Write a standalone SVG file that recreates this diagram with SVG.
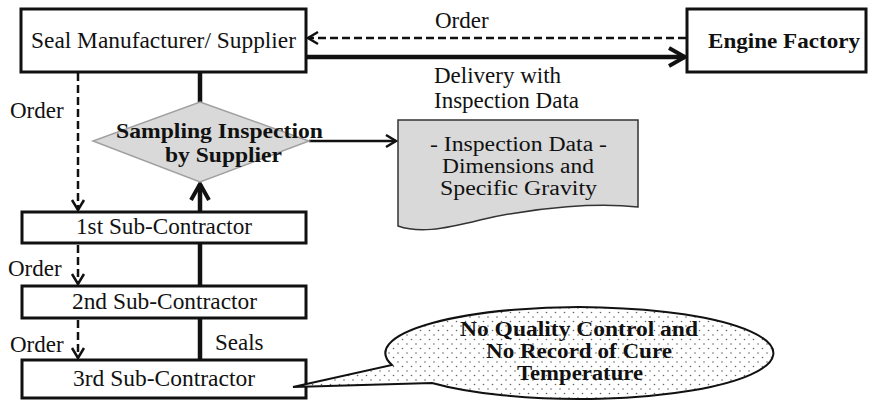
<svg xmlns="http://www.w3.org/2000/svg" width="872" height="401" viewBox="0 0 872 401">
<style>
  text { font-family: "Liberation Serif", "Times New Roman", serif; fill: #111; }
  .lbl { font-size: 23px; }
  .bold { font-weight: bold; font-size: 22px; }
  .tight { font-size: 20px; }
  .tightb { font-size: 20px; font-weight: bold; }
  .box { fill: #fff; stroke: #111; stroke-width: 3; }
  .solid { fill: none; stroke: #111; stroke-width: 4.5; }
  .thin { fill: none; stroke: #111; stroke-width: 2.5; }
  .dash { fill: none; stroke: #111; stroke-width: 2.5; stroke-dasharray: 8 4; }
</style>
<defs>
  <marker id="bigHead" markerUnits="userSpaceOnUse" viewBox="0 0 24 24" refX="21" refY="12" markerWidth="24" markerHeight="24" orient="auto">
    <path d="M5,3 L21,12 L5,21" fill="none" stroke="#111" stroke-width="4" stroke-linejoin="miter"/>
  </marker>
  <marker id="smallHead" markerUnits="userSpaceOnUse" viewBox="0 0 16 16" refX="14" refY="8" markerWidth="16" markerHeight="16" orient="auto">
    <path d="M4,2 L14,8 L4,14" fill="none" stroke="#111" stroke-width="2.5" stroke-dasharray="none"/>
  </marker>
  <pattern id="dots" patternUnits="userSpaceOnUse" width="9" height="9">
    <rect width="9" height="9" fill="#fff"/>
    <circle cx="2" cy="2" r="0.8" fill="#666"/>
    <circle cx="6.5" cy="6.5" r="0.8" fill="#666"/>
  </pattern>
</defs>

<g id="connectors">
  <line class="dash" x1="686" y1="38" x2="308" y2="38" marker-end="url(#smallHead)"/>
  <line class="solid" x1="306" y1="57" x2="685" y2="57" marker-end="url(#bigHead)"/>
  <line class="solid" x1="200" y1="72" x2="200" y2="103"/>
  <line class="thin" x1="309" y1="141" x2="396" y2="141" marker-end="url(#smallHead)"/>
  <line class="dash" x1="78" y1="73" x2="78" y2="210" marker-end="url(#smallHead)"/>
  <line class="dash" x1="78" y1="245" x2="78" y2="284" marker-end="url(#smallHead)"/>
  <line class="dash" x1="78" y1="320" x2="78" y2="358" marker-end="url(#smallHead)"/>
  <line class="solid" x1="200" y1="211" x2="200" y2="184" marker-end="url(#bigHead)"/>
  <line class="solid" x1="200" y1="287" x2="200" y2="242"/>
  <line class="solid" x1="200" y1="361" x2="200" y2="317"/>
  <text class="lbl" x="435" y="28">Order</text>
  <text class="lbl" x="434" y="83">Delivery with</text>
  <text class="lbl" x="434" y="108">Inspection Data</text>
  <text class="lbl" x="10" y="118">Order</text>
  <text class="lbl" x="8" y="276">Order</text>
  <text class="lbl" x="10" y="352">Order</text>
  <text class="lbl" x="215" y="350">Seals</text>
</g>

<g id="seal-manufacturer">
  <rect class="box" x="21" y="9" width="285" height="63"/>
  <text class="lbl" x="31" y="48" textLength="265" lengthAdjust="spacingAndGlyphs">Seal Manufacturer/ Supplier</text>
</g>

<g id="engine-factory">
  <rect class="box" x="687" y="9" width="179" height="63"/>
  <text class="bold" x="708" y="48" textLength="152" lengthAdjust="spacingAndGlyphs">Engine Factory</text>
</g>

<g id="sampling-inspection">
  <polygon points="200,102 309,141 200,182 93,141" fill="#d9d9d9" stroke="#a0a0a0" stroke-width="1.5"/>
  <text class="bold" x="116" y="138" textLength="207" lengthAdjust="spacingAndGlyphs">Sampling Inspection</text>
  <text class="bold" x="165" y="162" textLength="117" lengthAdjust="spacingAndGlyphs">by Supplier</text>
</g>

<g id="inspection-data">
  <path d="M398,120 H638 V207 C600,203 540,206 480,220 C440,230 418,233 398,226 Z" fill="#d9d9d9" stroke="#333" stroke-width="1.5"/>
  <text class="tight" x="430" y="151" textLength="177" lengthAdjust="spacingAndGlyphs">- Inspection Data -</text>
  <text class="tight" x="442" y="173" textLength="152" lengthAdjust="spacingAndGlyphs">Dimensions and</text>
  <text class="tight" x="440" y="195" textLength="157" lengthAdjust="spacingAndGlyphs">Specific Gravity</text>
</g>

<g id="sub1">
  <rect class="box" x="22" y="212" width="284" height="31"/>
  <text class="lbl" x="76" y="234" textLength="176" lengthAdjust="spacingAndGlyphs">1st Sub-Contractor</text>
</g>

<g id="sub2">
  <rect class="box" x="22" y="286" width="284" height="32"/>
  <text class="lbl" x="72" y="309" textLength="185" lengthAdjust="spacingAndGlyphs">2nd Sub-Contractor</text>
</g>

<g id="sub3">
  <rect class="box" x="22" y="360" width="284" height="38"/>
  <text class="lbl" x="73" y="386" textLength="182" lengthAdjust="spacingAndGlyphs">3rd Sub-Contractor</text>
</g>

<g id="callout">
  <path d="M392,365 A194,46 0 1 1 432,383 L293,387 Z" fill="url(#dots)" stroke="#111" stroke-width="2"/>
  <text class="tightb" x="460" y="336" textLength="238" lengthAdjust="spacingAndGlyphs">No Quality Control and</text>
  <text class="tightb" x="486" y="358" textLength="186" lengthAdjust="spacingAndGlyphs">No Record of Cure</text>
  <text class="tightb" x="517" y="380" textLength="126" lengthAdjust="spacingAndGlyphs">Temperature</text>
</g>
</svg>
